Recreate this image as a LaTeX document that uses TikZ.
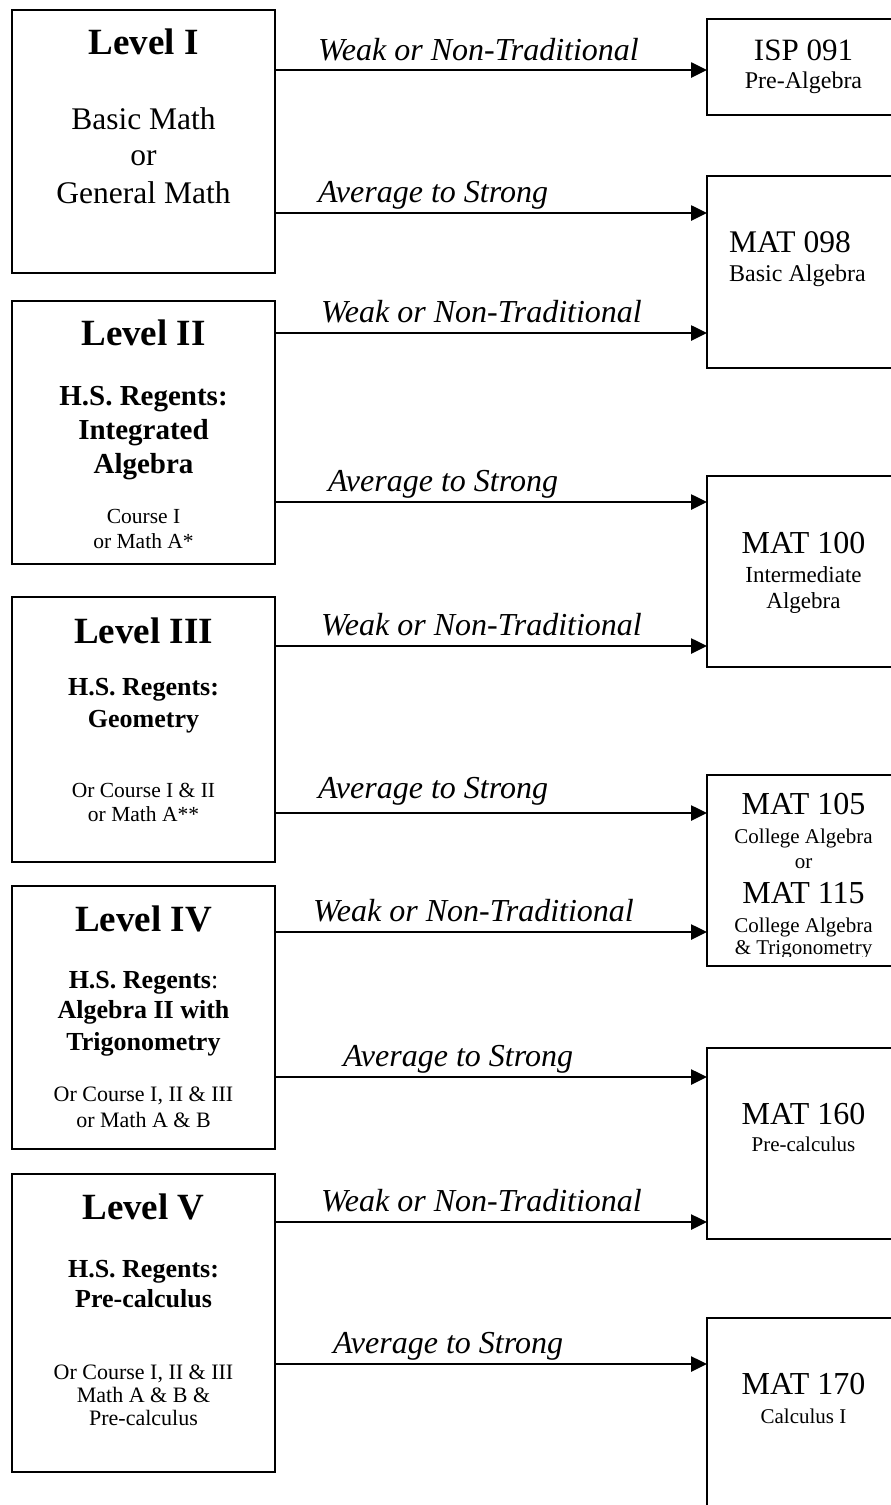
\documentclass[tikz,border=0pt]{standalone}
\usepackage{fontspec}
\setmainfont{Liberation Serif}
\usetikzlibrary{arrows.meta}

\newcommand\szfont[1]{\fontsize{#1}{#1}\selectfont}

\tikzset{
  box/.style={draw,line width=2.6pt,inner sep=0pt,outer sep=0pt},
  lvlbox/.style={box,minimum width=263pt},
  crsbox/.style={box,minimum width=188pt},
  arr/.style={line width=2.6pt,-{Triangle[length=16pt,width=15pt]}},
  txt/.style={anchor=base,inner sep=0pt,font=\szfont{#1}},
  txtb/.style={anchor=base,inner sep=0pt,font=\bfseries\szfont{#1}},
  lbl/.style={anchor=base west,inner sep=0pt,font=\itshape\szfont{32}},
}

\begin{document}
\begin{tikzpicture}[x=1pt,y=-1pt]
    \useasboundingbox (0,0) rectangle (891,1505);
    % levels on the left
    \node[lvlbox,minimum height=263pt] (lv1) at (143.5,141.5) {};
    \node[lvlbox,minimum height=263pt] (lv2) at (143.5,432.5) {};
    \node[lvlbox,minimum height=265pt] (lv3) at (143.5,729.5) {};
    \node[lvlbox,minimum height=263pt] (lv4) at (143.5,1017.5) {};
    \node[lvlbox,minimum height=298pt] (lv5) at (143.5,1323) {};
    % courses on the right
    \node[crsbox,minimum height=96pt] (isp) at (801,67) {};
    \node[crsbox,minimum height=192pt] (mat098) at (801,272) {};
    \node[crsbox,minimum height=191pt] (mat100) at (801,571.5) {};
    \node[crsbox,minimum height=191pt] (mat105) at (801,870.5) {};
    \node[crsbox,minimum height=191pt] (mat160) at (801,1143.5) {};
    \node[crsbox,minimum height=197pt] (mat170) at (801,1416.5) {};

    % Level I
    \node[txtb=37] (lv1h) at (143.5,54) {Level I};
    \node[txt=31.5] (lv1a) at (143.5,129) {Basic Math};
    \node[txt=31.5] (lv1b) at (143.5,165) {or};
    \node[txt=31.5] (lv1c) at (143.5,203) {General Math};
    % Level II
    \node[txtb=37] (lv2h) at (143.5,345) {Level II};
    \node[txtb=29] (lv2a) at (143.5,405) {H.S. Regents:};
    \node[txtb=29] (lv2b) at (143.5,439) {Integrated};
    \node[txtb=29] (lv2c) at (143.5,473) {Algebra};
    \node[txt=21.5] (lv2d) at (143.5,523) {Course I};
    \node[txt=21.5] (lv2e) at (143.5,548) {or Math A*};
    % Level III
    \node[txtb=37] (lv3h) at (143.5,643) {Level III};
    \node[txtb=26] (lv3a) at (143.5,695) {H.S. Regents:};
    \node[txtb=26] (lv3b) at (143.5,727) {Geometry};
    \node[txt=21.5] (lv3c) at (143.5,797) {Or Course I \& II};
    \node[txt=21.5] (lv3d) at (143.5,821) {or Math A**};
    % Level IV
    \node[txtb=37] (lv4h) at (143.5,931) {Level IV};
    \node[txtb=26] (lv4a) at (143.5,988) {H.S. Regents\textmd{:}};
    \node[txtb=26] (lv4b) at (143.5,1018) {Algebra II with};
    \node[txtb=26] (lv4c) at (143.5,1050) {Trigonometry};
    \node[txt=22] (lv4d) at (143.5,1101) {Or Course I, II \& III};
    \node[txt=22] (lv4e) at (143.5,1127) {or Math A \& B};
    % Level V
    \node[txtb=37] (lv5h) at (143.5,1219) {Level V};
    \node[txtb=26] (lv5a) at (143.5,1277) {H.S. Regents:};
    \node[txtb=26] (lv5b) at (143.5,1307) {Pre-calculus};
    \node[txt=22] (lv5c) at (143.5,1379) {Or Course I, II \& III};
    \node[txt=22] (lv5d) at (143.5,1402) {Math A \& B \&};
    \node[txt=22] (lv5e) at (143.5,1425) {Pre-calculus};

    % course texts
    \node[txt=31] (ispa) at (803.5,60) {ISP 091};
    \node[txt=24] (ispb) at (803.5,88) {Pre-Algebra};
    \node[txt=31.5,anchor=base west] (m098a) at (729,252) {MAT 098};
    \node[txt=24,anchor=base west] (m098b) at (729,281) {Basic Algebra};
    \node[txt=32] (m100a) at (803.5,553) {MAT 100};
    \node[txt=23] (m100b) at (803.5,582) {Intermediate};
    \node[txt=23] (m100c) at (803.5,608) {Algebra};
    \node[txt=32] (m105a) at (803.5,814) {MAT 105};
    \node[txt=21] (m105b) at (803.5,843) {College Algebra};
    \node[txt=21] (m105c) at (803.5,868) {or};
    \node[txt=32] (m115a) at (803.5,903) {MAT 115};
    \node[txt=21] (m115b) at (803.5,932) {College Algebra};
    \begin{scope}
        \clip (707,775) rectangle (895,956);
        \node[txt=21] (m115c) at (803.5,954) {\& Trigonometry};
    \end{scope}
    \node[txt=32] (m160a) at (803.5,1124) {MAT 160};
    \node[txt=21] (m160b) at (803.5,1151) {Pre-calculus};
    \node[txt=32] (m170a) at (803.5,1394) {MAT 170};
    \node[txt=21] (m170b) at (803.5,1423) {Calculus I};

    % placement arrows
    \draw[arr] (lv1.east |- 0,70) -- (isp.west |- 0,70);
    \node[lbl] (w1) at (318,60) {Weak or Non-Traditional};
    \draw[arr] (lv1.east |- 0,213) -- (mat098.west |- 0,213);
    \node[lbl] (s1) at (318,202) {Average to Strong};
    \draw[arr] (lv2.east |- 0,333) -- (mat098.west |- 0,333);
    \node[lbl] (w2) at (321,322) {Weak or Non-Traditional};
    \draw[arr] (lv2.east |- 0,502) -- (mat100.west |- 0,502);
    \node[lbl] (s2) at (328,491) {Average to Strong};
    \draw[arr] (lv3.east |- 0,646) -- (mat100.west |- 0,646);
    \node[lbl] (w3) at (321,635) {Weak or Non-Traditional};
    \draw[arr] (lv3.east |- 0,813) -- (mat105.west |- 0,813);
    \node[lbl] (s3) at (318,798) {Average to Strong};
    \draw[arr] (lv4.east |- 0,932) -- (mat105.west |- 0,932);
    \node[lbl] (w4) at (313,921) {Weak or Non-Traditional};
    \draw[arr] (lv4.east |- 0,1077) -- (mat160.west |- 0,1077);
    \node[lbl] (s4) at (343,1066) {Average to Strong};
    \draw[arr] (lv5.east |- 0,1222) -- (mat160.west |- 0,1222);
    \node[lbl] (w5) at (321,1211) {Weak or Non-Traditional};
    \draw[arr] (lv5.east |- 0,1364) -- (mat170.west |- 0,1364);
    \node[lbl] (s5) at (333,1353) {Average to Strong};
\end{tikzpicture}
\end{document}
